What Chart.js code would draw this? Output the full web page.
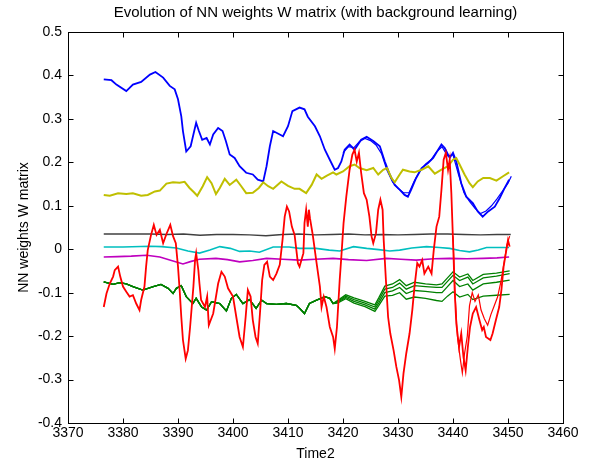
<!DOCTYPE html>
<html>
<head>
<meta charset="utf-8">
<script src="https://cdn.jsdelivr.net/npm/chart.js@4.4.1/dist/chart.umd.min.js"></script>
<style>
    html, body { margin: 0; padding: 0; background: #fff; }
    #wrap { width: 589px; height: 466px; }
</style>
</head>
<body>
<div id="wrap"><canvas id="nnWeights"></canvas></div>
<script>
// values, [time, weight]
var blue = [
    [3376.5, 0.391], [3377.9, 0.389], [3378.8, 0.379], [3380.6, 0.364], [3381.8, 0.379], [3383.3, 0.385],
    [3384.9, 0.402], [3385.9, 0.408], [3387.3, 0.395], [3388.5, 0.376], [3389.4, 0.368], [3390.0, 0.345],
    [3390.6, 0.306], [3390.9, 0.272], [3391.5, 0.225], [3392.3, 0.237], [3392.8, 0.264], [3393.3, 0.291],
    [3393.8, 0.272], [3394.4, 0.252], [3395.2, 0.256], [3395.8, 0.241], [3396.4, 0.264], [3397.3, 0.279],
    [3398.1, 0.272], [3398.7, 0.249], [3399.4, 0.218], [3400.3, 0.210], [3401.2, 0.191], [3402.4, 0.176],
    [3403.6, 0.172], [3404.5, 0.160], [3405.5, 0.156], [3406.1, 0.191], [3406.7, 0.237], [3407.3, 0.272],
    [3408.5, 0.264], [3409.1, 0.260], [3410.0, 0.283], [3410.8, 0.318], [3412.1, 0.326], [3413.0, 0.322],
    [3413.6, 0.305], [3414.9, 0.283], [3415.8, 0.260], [3416.7, 0.229], [3417.6, 0.206], [3418.5, 0.183],
    [3419.1, 0.187], [3419.7, 0.202], [3420.3, 0.229], [3421.2, 0.241], [3422.1, 0.229], [3423.3, 0.252],
    [3424.3, 0.259], [3425.5, 0.249], [3426.7, 0.237], [3427.6, 0.202], [3428.5, 0.172], [3429.4, 0.148],
    [3430.3, 0.137], [3431.2, 0.125], [3431.8, 0.121], [3432.4, 0.137], [3433.3, 0.164], [3434.3, 0.187],
    [3435.5, 0.199], [3436.4, 0.210], [3437.3, 0.229], [3437.9, 0.241], [3438.5, 0.233], [3439.4, 0.210],
    [3440.0, 0.222], [3440.6, 0.202], [3441.5, 0.152], [3442.4, 0.121], [3443.6, 0.106], [3444.5, 0.087],
    [3445.4, 0.075], [3446.4, 0.087], [3447.6, 0.098], [3448.5, 0.118], [3449.4, 0.141], [3450.2, 0.160]
]
var blueRun2 = [
    [3420.0, 0.222], [3421.0, 0.236], [3422.0, 0.234], [3423.0, 0.248], [3424.0, 0.255], [3425.0, 0.250],
    [3426.0, 0.240], [3427.0, 0.220], [3428.0, 0.182], [3429.0, 0.155], [3430.0, 0.140], [3431.0, 0.130],
    [3432.0, 0.130], [3433.0, 0.158], [3434.0, 0.180], [3435.0, 0.196], [3436.0, 0.206], [3437.0, 0.224],
    [3438.0, 0.236], [3439.0, 0.215], [3440.0, 0.217], [3441.0, 0.172], [3442.0, 0.130], [3443.0, 0.110],
    [3444.0, 0.094], [3445.0, 0.082], [3446.0, 0.088], [3447.0, 0.100], [3448.0, 0.116], [3449.0, 0.134],
    [3450.0, 0.152], [3450.6, 0.168]
]
var yellow = [
    [3376.5, 0.125], [3377.6, 0.123], [3379.1, 0.129], [3380.6, 0.127], [3381.8, 0.129], [3383.3, 0.123],
    [3384.5, 0.125], [3385.8, 0.133], [3386.7, 0.135], [3387.9, 0.151], [3389.1, 0.154], [3390.3, 0.153],
    [3391.2, 0.155], [3392.1, 0.141], [3392.9, 0.131], [3393.5, 0.123], [3394.5, 0.145], [3395.3, 0.166],
    [3396.1, 0.152], [3396.9, 0.127], [3397.6, 0.141], [3398.5, 0.162], [3399.4, 0.148], [3400.6, 0.160],
    [3401.5, 0.145], [3402.4, 0.129], [3403.6, 0.130], [3404.7, 0.141], [3405.5, 0.154], [3406.4, 0.145],
    [3407.3, 0.139], [3408.8, 0.156], [3410.0, 0.146], [3411.2, 0.139], [3412.1, 0.139], [3413.3, 0.129],
    [3414.3, 0.148], [3415.2, 0.172], [3416.1, 0.162], [3417.0, 0.169], [3418.2, 0.177], [3418.8, 0.172],
    [3420.0, 0.179], [3421.2, 0.191], [3422.1, 0.195], [3423.0, 0.187], [3424.3, 0.182], [3425.5, 0.187],
    [3426.4, 0.172], [3427.3, 0.183], [3428.0, 0.187], [3428.8, 0.164], [3429.4, 0.154], [3430.3, 0.172],
    [3430.9, 0.183], [3432.1, 0.179], [3433.0, 0.177], [3434.3, 0.183], [3435.5, 0.191], [3436.7, 0.174],
    [3437.9, 0.183], [3439.1, 0.191], [3440.0, 0.206], [3440.6, 0.210], [3441.2, 0.195], [3442.1, 0.172],
    [3443.0, 0.152], [3443.6, 0.143], [3444.5, 0.156], [3445.5, 0.164], [3446.7, 0.164], [3447.9, 0.158],
    [3449.1, 0.168], [3450.2, 0.177]
]
var black = [
    [3376.5, 0.035], [3380.0, 0.035], [3385.0, 0.035], [3388.0, 0.034], [3391.0, 0.035], [3394.0, 0.032],
    [3397.0, 0.034], [3400.0, 0.034], [3403.0, 0.033], [3406.0, 0.031], [3409.0, 0.034], [3412.0, 0.035],
    [3415.0, 0.033], [3418.0, 0.034], [3421.0, 0.035], [3424.0, 0.033], [3427.0, 0.034], [3430.0, 0.033],
    [3433.0, 0.034], [3436.0, 0.035], [3439.0, 0.035], [3442.0, 0.034], [3445.0, 0.033], [3448.0, 0.034],
    [3450.5, 0.034]
]
var cyan = [
    [3376.5, 0.005], [3380.0, 0.005], [3384.9, 0.007], [3387.0, 0.006], [3389.7, 0.003], [3391.8, -0.004],
    [3393.9, -0.009], [3395.8, -0.002], [3397.6, 0.006], [3399.5, 0.002], [3401.2, -0.005], [3403.0, -0.004],
    [3404.8, -0.007], [3407.3, 0.005], [3410.2, 0.005], [3412.1, 0.002], [3415.1, 0.002], [3417.5, -0.002],
    [3419.4, -0.004], [3421.9, 0.006], [3424.3, 0.002], [3426.5, -0.001], [3428.5, -0.004], [3430.3, -0.002],
    [3432.5, 0.003], [3435.2, 0.006], [3437.5, 0.004], [3439.4, 0.002], [3441.2, -0.003], [3443.0, -0.006],
    [3444.6, -0.002], [3446.1, 0.004], [3448.0, 0.004], [3450.2, 0.004]
]
var magenta = [
    [3376.5, -0.018], [3379.0, -0.017], [3381.5, -0.016], [3384.3, -0.014], [3386.7, -0.018], [3388.8, -0.026],
    [3390.9, -0.034], [3392.4, -0.028], [3393.9, -0.023], [3396.9, -0.021], [3399.0, -0.024], [3401.2, -0.029],
    [3403.6, -0.026], [3406.1, -0.021], [3409.0, -0.023], [3412.1, -0.025], [3415.0, -0.023], [3418.2, -0.021],
    [3421.0, -0.024], [3424.3, -0.026], [3427.9, -0.021], [3430.5, -0.023], [3433.3, -0.025], [3436.5, -0.022],
    [3439.4, -0.021], [3442.5, -0.022], [3445.5, -0.021], [3448.0, -0.020], [3450.2, -0.018]
]
var greenStart = [
    [3376.5, -0.075], [3378.2, -0.081], [3379.4, -0.077], [3380.6, -0.080], [3381.8, -0.086], [3383.6, -0.094],
    [3385.5, -0.086], [3386.9, -0.081], [3388.2, -0.090], [3389.1, -0.102], [3389.7, -0.090], [3390.6, -0.084],
    [3391.5, -0.109], [3392.7, -0.125], [3393.3, -0.113], [3394.3, -0.133], [3395.2, -0.140], [3396.1, -0.121],
    [3397.6, -0.125], [3398.8, -0.142], [3399.7, -0.113], [3400.6, -0.104], [3401.8, -0.125], [3403.0, -0.116],
    [3404.2, -0.136], [3405.2, -0.117], [3406.1, -0.125], [3407.9, -0.127], [3409.7, -0.125], [3411.5, -0.129],
    [3412.1, -0.136], [3413.0, -0.148], [3413.9, -0.125], [3415.2, -0.117], [3416.7, -0.109], [3417.6, -0.113],
    [3418.2, -0.125]
]
// after ~3419 the green weight splits into several runs
var greenTimes = [3419, 3420.5, 3422, 3424, 3425.8, 3426.5, 3427.6, 3429, 3430.3, 3431.5, 3433,
    3435, 3437, 3438, 3439, 3440, 3441.2, 3442.7, 3443.6, 3445.5, 3447.9, 3450.3]
var greenRun1 = [-0.118, -0.105, -0.112, -0.120, -0.128, -0.112, -0.085, -0.080, -0.070, -0.084, -0.076,
    -0.080, -0.082, -0.080, -0.066, -0.052, -0.064, -0.057, -0.072, -0.058, -0.055, -0.050]
var greenRun2 = [-0.120, -0.108, -0.116, -0.124, -0.133, -0.118, -0.092, -0.088, -0.078, -0.092, -0.084,
    -0.086, -0.088, -0.088, -0.074, -0.060, -0.072, -0.064, -0.080, -0.066, -0.062, -0.056]
var greenRun3 = [-0.122, -0.111, -0.120, -0.128, -0.138, -0.124, -0.100, -0.096, -0.088, -0.102, -0.095,
    -0.097, -0.100, -0.100, -0.086, -0.072, -0.086, -0.080, -0.094, -0.080, -0.076, -0.071]
var greenRun4 = [-0.124, -0.114, -0.124, -0.132, -0.143, -0.130, -0.108, -0.106, -0.100, -0.115, -0.110,
    -0.113, -0.118, -0.120, -0.108, -0.098, -0.110, -0.104, -0.116, -0.108, -0.106, -0.104]
var red = [
    [3376.5, -0.133], [3377.0, -0.102], [3377.6, -0.079], [3378.2, -0.063], [3378.5, -0.048], [3379.1, -0.040],
    [3379.5, -0.063], [3380.0, -0.086], [3380.6, -0.098], [3381.2, -0.109], [3381.8, -0.106], [3382.4, -0.125],
    [3383.0, -0.140], [3383.3, -0.117], [3383.9, -0.086], [3384.2, -0.040], [3384.5, -0.002], [3385.1, 0.033],
    [3385.6, 0.056], [3386.1, 0.033], [3386.7, 0.045], [3387.3, 0.014], [3387.9, 0.035], [3388.6, 0.056],
    [3389.1, 0.030], [3389.6, 0.014], [3390.0, -0.040], [3390.3, -0.094], [3390.6, -0.156], [3390.9, -0.209],
    [3391.4, -0.252], [3391.8, -0.233], [3392.2, -0.179], [3392.8, -0.086], [3393.1, -0.025], [3393.3, -0.009],
    [3393.7, -0.048], [3393.9, -0.079], [3394.2, -0.117], [3394.9, -0.133], [3395.3, -0.109], [3395.6, -0.175],
    [3396.4, -0.148], [3397.3, -0.079], [3397.9, -0.052], [3398.5, -0.063], [3399.1, -0.090], [3400.0, -0.109],
    [3400.6, -0.156], [3401.2, -0.202], [3401.8, -0.225], [3402.3, -0.156], [3402.7, -0.094], [3403.2, -0.109],
    [3403.6, -0.163], [3404.1, -0.202], [3404.5, -0.217], [3404.9, -0.148], [3405.3, -0.071], [3405.7, -0.036],
    [3406.2, -0.029], [3406.7, -0.063], [3407.3, -0.071], [3407.9, -0.056], [3408.5, -0.036], [3409.0, 0.021],
    [3409.4, 0.075], [3409.8, 0.098], [3410.2, 0.087], [3410.7, 0.052], [3411.2, 0.033], [3411.8, -0.032],
    [3412.1, -0.040], [3412.8, -0.009], [3413.0, 0.060], [3413.3, 0.091], [3413.6, 0.052], [3413.8, 0.091],
    [3414.0, 0.071], [3414.5, 0.033], [3415.2, -0.032], [3415.8, -0.086], [3416.1, -0.133], [3416.5, -0.109],
    [3417.0, -0.133], [3417.6, -0.179], [3418.2, -0.202], [3418.5, -0.229], [3418.9, -0.179], [3419.4, -0.071],
    [3419.7, -0.017], [3420.1, 0.060], [3420.6, 0.121], [3421.2, 0.183], [3421.7, 0.218], [3422.1, 0.229],
    [3422.5, 0.202], [3422.9, 0.222], [3423.3, 0.176], [3423.8, 0.129], [3424.3, 0.114], [3424.8, 0.075],
    [3425.2, 0.029], [3425.5, 0.014], [3426.0, 0.037], [3426.4, 0.091], [3426.8, 0.114], [3427.2, 0.091],
    [3427.4, 0.021], [3427.8, -0.071], [3428.2, -0.156], [3428.6, -0.194], [3429.2, -0.233], [3429.7, -0.271],
    [3430.2, -0.302], [3430.6, -0.340], [3431.0, -0.286], [3431.5, -0.240], [3432.1, -0.194], [3432.6, -0.140],
    [3433.0, -0.086], [3433.5, -0.032], [3433.9, -0.040], [3434.4, -0.025], [3434.8, -0.056], [3435.5, -0.040],
    [3436.1, -0.056], [3436.5, -0.002], [3437.0, 0.052], [3437.5, 0.075], [3437.9, 0.137], [3438.3, 0.206],
    [3438.7, 0.222], [3439.1, 0.183], [3439.4, 0.206], [3439.7, 0.129], [3440.0, 0.021], [3440.3, -0.094],
    [3440.6, -0.171], [3441.1, -0.225], [3441.5, -0.194], [3441.9, -0.248], [3442.3, -0.279], [3442.7, -0.225],
    [3443.1, -0.179], [3443.6, -0.148], [3444.2, -0.133], [3444.8, -0.163], [3445.3, -0.186], [3445.6, -0.179],
    [3446.0, -0.202], [3446.8, -0.209], [3447.2, -0.194], [3447.8, -0.163], [3448.4, -0.133], [3448.8, -0.094],
    [3449.2, -0.040], [3449.7, -0.002], [3450.0, 0.021], [3450.3, 0.006]
]
var redRun2 = [
    [3440.0, 0.030], [3440.4, -0.110], [3440.8, -0.200], [3441.3, -0.250], [3441.7, -0.285], [3442.1, -0.240],
    [3442.6, -0.200], [3443.0, -0.130], [3443.5, -0.100], [3444.0, -0.120], [3444.6, -0.105], [3445.1, -0.140],
    [3445.7, -0.160], [3446.3, -0.175], [3446.9, -0.150], [3447.5, -0.130], [3448.1, -0.110], [3448.7, -0.075],
    [3449.3, -0.030], [3449.8, 0.010], [3450.3, 0.030]
]

var xTicks = [3370, 3380, 3390, 3400, 3410, 3420, 3430, 3440, 3450, 3460]
var yTicks = [-0.4, -0.3, -0.2, -0.1, 0, 0.1, 0.2, 0.3, 0.4, 0.5]

function pts(arr) {
    return arr.map(function (p) { return { x: p[0], y: p[1] } })
}
function greenRun(tail) {
    return pts(greenStart).concat(greenTimes.map(function (t, i) { return { x: t, y: tail[i] } }))
}
function line(data, color, width) {
    return { data: data, borderColor: color, borderWidth: width || 1.6, pointRadius: 0, tension: 0, fill: false }
}

// matlab style box with inward tick marks on all four sides
var boxAxes = {
    id: "boxAxes",
    afterDraw: function (chart) {
        var ctx = chart.ctx
        var a = chart.chartArea
        var x = chart.scales.x
        var y = chart.scales.y
        var L = Math.round(a.left) + 0.5, R = Math.round(a.right) + 0.5
        var T = Math.round(a.top) + 0.5, B = Math.round(a.bottom) + 0.5
        ctx.save()
        ctx.strokeStyle = "#000"
        ctx.lineWidth = 1
        ctx.strokeRect(L, T, R - L, B - T)
        ctx.beginPath()
        xTicks.forEach(function (v) {
            var px = Math.round(x.getPixelForValue(v)) + 0.5
            ctx.moveTo(px, B); ctx.lineTo(px, B - 5)
            ctx.moveTo(px, T); ctx.lineTo(px, T + 5)
        })
        yTicks.forEach(function (v) {
            var py = Math.round(y.getPixelForValue(v)) + 0.5
            ctx.moveTo(L, py); ctx.lineTo(L + 5, py)
            ctx.moveTo(R, py); ctx.lineTo(R - 5, py)
        })
        ctx.stroke()
        ctx.restore()
    }
}

Chart.defaults.font.family = "'Liberation Sans', Arial, sans-serif"
Chart.defaults.font.size = 14
Chart.defaults.color = "#000"

new Chart("nnWeights", {
    type: "line",
    data: {
        datasets: [
            line(pts(red), "#ff0000", 1.8),
            line(pts(redRun2), "#ff0000", 1.2),
            line(greenRun(greenRun1), "#008000", 1.3),
            line(greenRun(greenRun2), "#008000", 1.3),
            line(greenRun(greenRun3), "#008000", 1.3),
            line(greenRun(greenRun4), "#008000", 1.3),
            line(pts(magenta), "#bf00bf"),
            line(pts(cyan), "#00bfbf"),
            line(pts(black), "#404040", 1.4),
            line(pts(yellow), "#bfbf00", 2),
            line(pts(blue), "#0000ff", 1.8),
            line(pts(blueRun2), "#0000ff", 1.2),
        ],
    },
    plugins: [boxAxes],
    options: {
        animation: false,
        responsive: true,
        maintainAspectRatio: false,
        layout: { padding: { left: 0, right: 26, top: 0, bottom: 0 } },
        plugins: {
            legend: { display: false },
            tooltip: { enabled: false },
            title: {
                display: true,
                fullSize: false,
                text: "Evolution of NN weights W matrix (with background learning)",
                font: { size: 15, weight: "normal" },
                color: "#000",
                padding: { top: 4, bottom: 10 },
            },
        },
        scales: {
            x: {
                type: "linear",
                min: 3370,
                max: 3460,
                afterBuildTicks: function (s) { s.ticks = xTicks.map(function (v) { return { value: v } }) },
                ticks: { padding: 2, maxRotation: 0, callback: function (v) { return String(v) } },
                grid: { display: false, drawTicks: false },
                border: { display: false },
                title: { display: true, text: "Time2", padding: { top: 0, bottom: 3 } },
                afterFit: function (s) { s.height = 43 },
            },
            y: {
                min: -0.4,
                max: 0.5,
                afterBuildTicks: function (s) { s.ticks = yTicks.map(function (v) { return { value: v } }) },
                ticks: { padding: 6, callback: function (v) { return String(Math.round(v * 10) / 10) } },
                grid: { display: false, drawTicks: false },
                border: { display: false },
                title: { display: true, text: "NN weights W matrix", padding: { top: 16, bottom: 0 } },
                afterFit: function (s) { s.width = 68 },
            },
        },
    },
})
</script>
</body>
</html>
